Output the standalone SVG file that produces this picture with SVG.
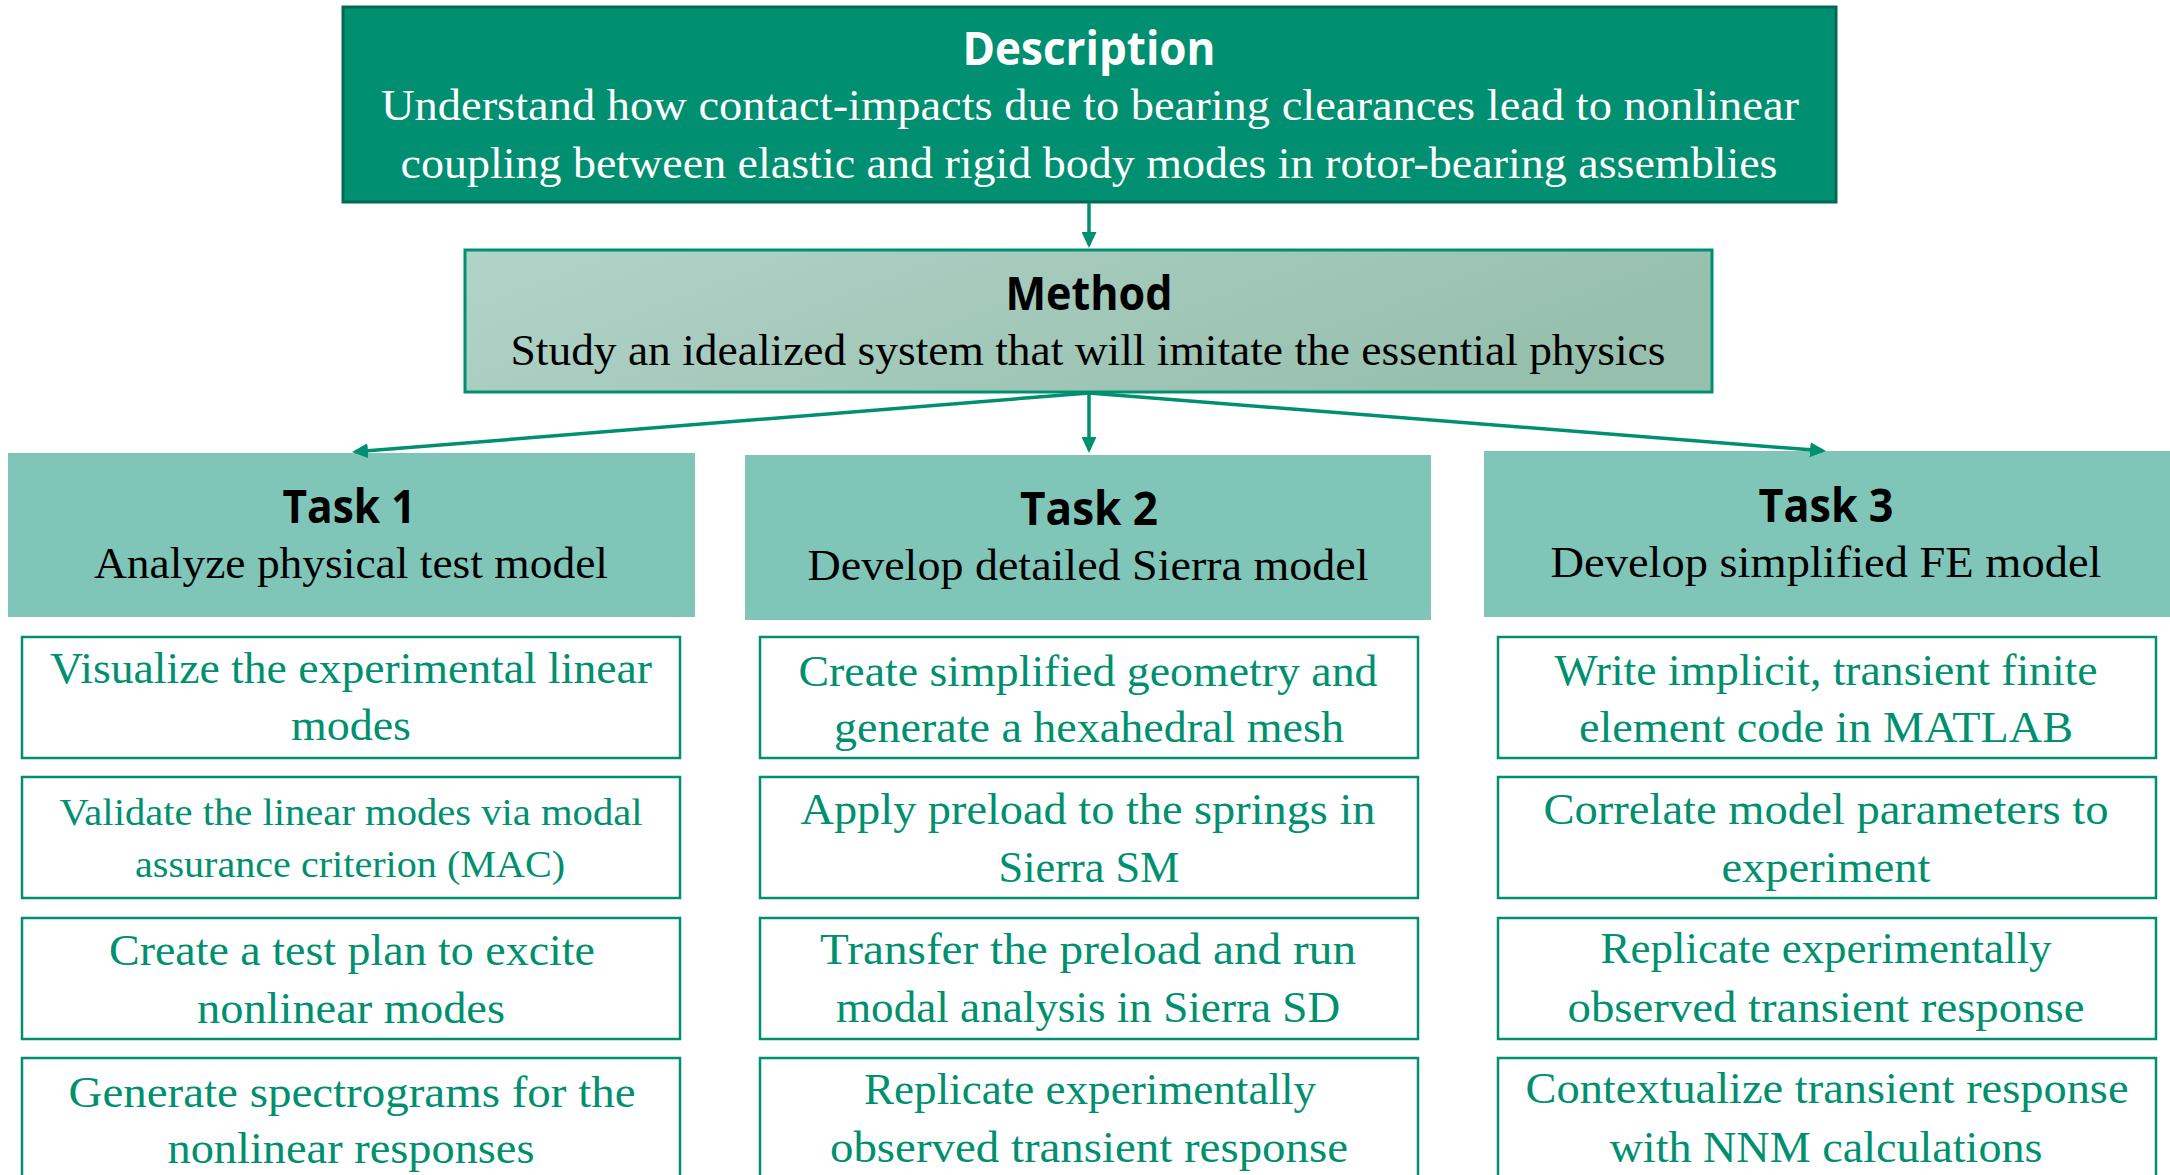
<svg xmlns="http://www.w3.org/2000/svg" width="2170" height="1175" viewBox="0 0 2170 1175">
<style>
.title{font-family:"Open Sans","Noto Sans",sans-serif;font-weight:700;font-size:46px;text-anchor:middle}
.body{font-family:"Liberation Serif","Times New Roman",serif;font-size:44px;text-anchor:middle}
.small{font-size:38px}
.detail rect{fill:#ffffff;stroke:#00906f;stroke-width:2.5}
.detail text{fill:#00906f}
.task rect{fill:#80c6b8}
.conn{stroke:#00906f;stroke-width:3.5;fill:none}
</style>
<defs>
<linearGradient id="mgrad" x1="0" y1="0" x2="1" y2="0.3">
<stop offset="0" stop-color="#b1d4c9"/>
<stop offset="1" stop-color="#97bfae"/>
</linearGradient>
<marker id="arr" markerUnits="userSpaceOnUse" markerWidth="16" markerHeight="15" refX="13" refY="7.5" orient="auto">
<path d="M0,0 L16,7.5 L0,15 z" fill="#00906f"/>
</marker>
</defs>

<g id="description">
<rect x="343" y="7" width="1493" height="195" fill="#008f70" stroke="#006b52" stroke-width="3"/>
<text class="title" x="1089" y="65" fill="#ffffff" textLength="253" lengthAdjust="spacingAndGlyphs">Description</text>
<text class="body" x="1090" y="120" fill="#ffffff" textLength="1418" lengthAdjust="spacingAndGlyphs">Understand how contact-impacts due to bearing clearances lead to nonlinear</text>
<text class="body" x="1089" y="178" fill="#ffffff" textLength="1377" lengthAdjust="spacingAndGlyphs">coupling between elastic and rigid body modes in rotor-bearing assemblies</text>
</g>

<g id="method">
<rect x="465" y="250" width="1247" height="142" fill="url(#mgrad)" stroke="#00906f" stroke-width="3"/>
<text class="title" x="1089" y="310" fill="#000000" textLength="167" lengthAdjust="spacingAndGlyphs">Method</text>
<text class="body" x="1088" y="365" fill="#000000" textLength="1155" lengthAdjust="spacingAndGlyphs">Study an idealized system that will imitate the essential physics</text>
</g>

<g id="task1" class="task">
<rect x="8" y="453" width="687" height="164"/>
<text class="title" x="349" y="523" textLength="133" lengthAdjust="spacingAndGlyphs">Task 1</text>
<text class="body" x="351" y="578" textLength="514" lengthAdjust="spacingAndGlyphs">Analyze physical test model</text>
</g>
<g id="task2" class="task">
<rect x="745" y="455" width="686" height="165"/>
<text class="title" x="1089" y="525" textLength="138" lengthAdjust="spacingAndGlyphs">Task 2</text>
<text class="body" x="1088" y="580" textLength="561" lengthAdjust="spacingAndGlyphs">Develop detailed Sierra model</text>
</g>
<g id="task3" class="task">
<rect x="1484" y="451" width="690" height="166"/>
<text class="title" x="1826" y="522" textLength="135" lengthAdjust="spacingAndGlyphs">Task 3</text>
<text class="body" x="1826" y="577" textLength="551" lengthAdjust="spacingAndGlyphs">Develop simplified FE model</text>
</g>

<g id="t1a" class="detail">
<rect x="22" y="637" width="658" height="121"/>
<text class="body" x="351" y="683" textLength="602" lengthAdjust="spacingAndGlyphs">Visualize the experimental linear</text>
<text class="body" x="351" y="740" textLength="120" lengthAdjust="spacingAndGlyphs">modes</text>
</g>
<g id="t1b" class="detail">
<rect x="22" y="777" width="658" height="121"/>
<text class="body small" x="351" y="825" textLength="583" lengthAdjust="spacingAndGlyphs">Validate the linear modes via modal</text>
<text class="body small" x="350" y="877" textLength="430" lengthAdjust="spacingAndGlyphs">assurance criterion (MAC)</text>
</g>
<g id="t1c" class="detail">
<rect x="22" y="918" width="658" height="121"/>
<text class="body" x="352" y="965" textLength="486" lengthAdjust="spacingAndGlyphs">Create a test plan to excite</text>
<text class="body" x="351" y="1023" textLength="308" lengthAdjust="spacingAndGlyphs">nonlinear modes</text>
</g>
<g id="t1d" class="detail">
<rect x="22" y="1058" width="658" height="125"/>
<text class="body" x="352" y="1107" textLength="567" lengthAdjust="spacingAndGlyphs">Generate spectrograms for the</text>
<text class="body" x="351" y="1163" textLength="367" lengthAdjust="spacingAndGlyphs">nonlinear responses</text>
</g>

<g id="t2a" class="detail">
<rect x="760" y="637" width="658" height="121"/>
<text class="body" x="1088" y="686" textLength="579" lengthAdjust="spacingAndGlyphs">Create simplified geometry and</text>
<text class="body" x="1089" y="742" textLength="510" lengthAdjust="spacingAndGlyphs">generate a hexahedral mesh</text>
</g>
<g id="t2b" class="detail">
<rect x="760" y="777" width="658" height="121"/>
<text class="body" x="1088" y="824" textLength="575" lengthAdjust="spacingAndGlyphs">Apply preload to the springs in</text>
<text class="body" x="1089" y="882" textLength="181" lengthAdjust="spacingAndGlyphs">Sierra SM</text>
</g>
<g id="t2c" class="detail">
<rect x="760" y="918" width="658" height="121"/>
<text class="body" x="1088" y="964" textLength="536" lengthAdjust="spacingAndGlyphs">Transfer the preload and run</text>
<text class="body" x="1088" y="1022" textLength="504" lengthAdjust="spacingAndGlyphs">modal analysis in Sierra SD</text>
</g>
<g id="t2d" class="detail">
<rect x="760" y="1058" width="658" height="125"/>
<text class="body" x="1090" y="1104" textLength="452" lengthAdjust="spacingAndGlyphs">Replicate experimentally</text>
<text class="body" x="1089" y="1162" textLength="518" lengthAdjust="spacingAndGlyphs">observed transient response</text>
</g>

<g id="t3a" class="detail">
<rect x="1498" y="637" width="658" height="121"/>
<text class="body" x="1826" y="685" textLength="543" lengthAdjust="spacingAndGlyphs">Write implicit, transient finite</text>
<text class="body" x="1826" y="742" textLength="494" lengthAdjust="spacingAndGlyphs">element code in MATLAB</text>
</g>
<g id="t3b" class="detail">
<rect x="1498" y="777" width="658" height="121"/>
<text class="body" x="1826" y="824" textLength="565" lengthAdjust="spacingAndGlyphs">Correlate model parameters to</text>
<text class="body" x="1826" y="882" textLength="209" lengthAdjust="spacingAndGlyphs">experiment</text>
</g>
<g id="t3c" class="detail">
<rect x="1498" y="918" width="658" height="121"/>
<text class="body" x="1826" y="963" textLength="451" lengthAdjust="spacingAndGlyphs">Replicate experimentally</text>
<text class="body" x="1826" y="1022" textLength="517" lengthAdjust="spacingAndGlyphs">observed transient response</text>
</g>
<g id="t3d" class="detail">
<rect x="1498" y="1058" width="658" height="125"/>
<text class="body" x="1827" y="1103" textLength="603" lengthAdjust="spacingAndGlyphs">Contextualize transient response</text>
<text class="body" x="1826" y="1162" textLength="433" lengthAdjust="spacingAndGlyphs">with NNM calculations</text>
</g>

<g id="connectors">
<line class="conn" x1="1089" y1="203" x2="1089" y2="245" marker-end="url(#arr)"/>
<line class="conn" x1="1089" y1="393" x2="1089" y2="450" marker-end="url(#arr)"/>
<line class="conn" x1="1089" y1="393" x2="355" y2="451.8" marker-end="url(#arr)"/>
<line class="conn" x1="1089" y1="393" x2="1823" y2="450.8" marker-end="url(#arr)"/>
</g>
</svg>
